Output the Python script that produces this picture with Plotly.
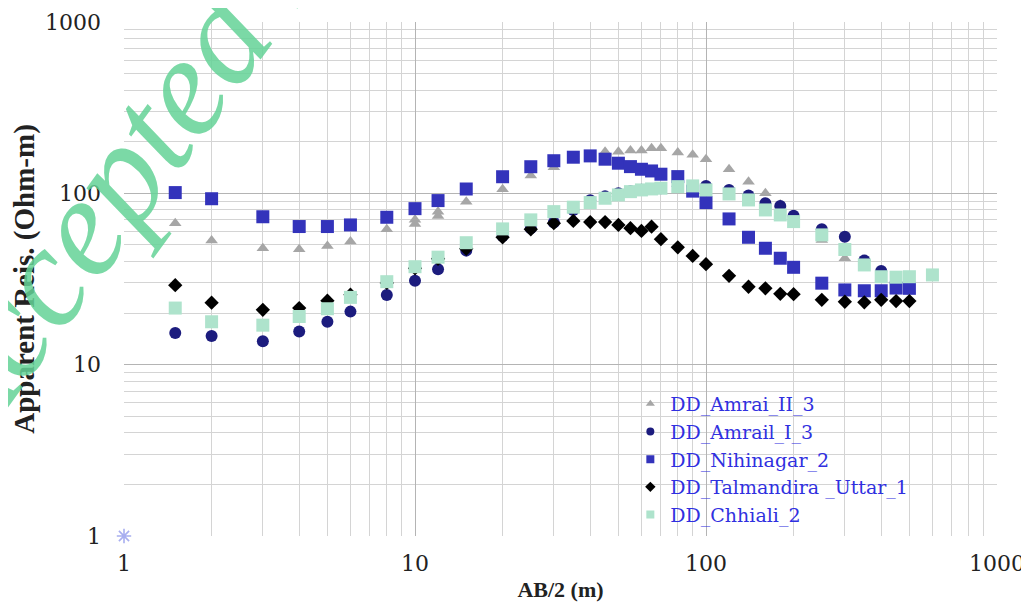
import plotly.graph_objects as go

# ---------------- data ----------------
amrai2_x = [1.5, 2, 3, 4, 5, 6, 8, 10, 10, 12, 12, 15, 20, 25, 30, 35, 40, 45, 50, 55, 60, 65, 70, 80, 90, 100,
            120, 140, 160, 180, 200, 250, 300]
amrai2_y = [67, 53, 47.8, 47.2, 49.3, 52.3, 61.7, 66.3, 70, 73.8, 78.2, 89.4, 105.7, 127, 142, 158, 162, 175, 175,
            178, 178, 183, 183, 173, 168, 158, 138, 117, 100, 86, 73, 53.5, 41.8]

amrail1_x = [1.5, 2, 3, 4, 5, 6, 8, 10, 12, 15, 20, 25, 30, 35, 40, 45, 50, 55, 60, 65, 70, 80, 90, 100,
             120, 140, 160, 180, 200, 250, 300, 350, 400, 450]
amrail1_y = [15.3, 14.7, 13.7, 15.6, 17.8, 20.4, 25.5, 30.9, 36.1, 46.3, 56.4, 62.5, 67.5, 80, 91, 96, 100, 103,
             105, 106, 107, 110, 110, 110.5, 104.7, 97, 87.5, 84.4, 74.1, 61.7, 55.8, 40.5, 35.2, 28.8]

nihi_x = [1.5, 2, 3, 4, 5, 6, 8, 10, 12, 15, 20, 25, 30, 35, 40, 45, 50, 55, 60, 65, 70, 80, 90, 100,
          120, 140, 160, 180, 200, 250, 300, 350, 400, 450, 500]
nihi_y = [101, 93, 73, 64, 64, 65.4, 72.5, 81.4, 90.7, 106, 125, 143, 155, 162.5, 165.4, 158.2, 149.9, 143.2,
          138.2, 135.1, 129.3, 125.2, 103, 88.3, 70.9, 55.4, 47.8, 41.8, 37, 29.9, 27.3, 27, 27, 28, 27.9]

talm_x = [1.5, 2, 3, 4, 5, 6, 8, 10, 12, 15, 20, 25, 30, 35, 40, 45, 50, 55, 60, 65, 70, 80, 90, 100,
          120, 140, 160, 180, 200, 250, 300, 350, 400, 450, 500]
talm_y = [29.1, 23, 20.9, 21.4, 23.6, 25.6, 30, 36.5, 41.5, 47.5, 55.4, 61.7, 67, 69, 68, 68, 65.4, 62.6, 60.3,
          63.9, 54, 48.4, 43.1, 38.6, 33, 28.5, 27.9, 25.9, 25.8, 23.9, 23.3, 23.1, 23.9, 23.5, 23.5]

chh_x = [1.5, 2, 3, 4, 5, 6, 8, 10, 12, 15, 20, 25, 30, 35, 40, 45, 50, 55, 60, 65, 70, 80, 90, 100,
         120, 140, 160, 180, 200, 250, 300, 350, 400, 450, 500, 600]
chh_y = [21.4, 17.8, 17, 19.1, 21.2, 24.7, 30.5, 37.3, 42.4, 51.5, 62, 70, 78.2, 83, 88.3, 93.6, 97.9, 102.3,
         104.7, 106.1, 107.1, 109.4, 110.5, 104.7, 99.2, 91.5, 80, 74.8, 68.4, 57.2, 47, 38.2, 32.6, 32.4, 32.6,
         33.4]

extra_x = [1]
extra_y = [1]

series_names = ["DD_Amrai_II_3", "DD_Amrail_I_3", "DD_Nihinagar_2", "DD_Talmandira _Uttar_1", "DD_Chhiali_2"]
x_ticks = [1, 10, 100, 1000]
y_ticks = [1, 10, 100, 1000]

# ---------------- styling ----------------
serif = "Liberation Serif, Times New Roman, serif"
wide_serif = "DejaVu Serif, serif"
styles = [
    dict(symbol="triangle-up", color="#a6a6a6", size=11),
    dict(symbol="circle", color="#1c1c7e", size=12),
    dict(symbol="square", color="#3333bb", size=13),
    dict(symbol="diamond", color="#000000", size=11),
    dict(symbol="square", color="#aee3cc", size=13),
]
data = [(amrai2_x, amrai2_y), (amrail1_x, amrail1_y), (nihi_x, nihi_y), (talm_x, talm_y), (chh_x, chh_y)]

fig = go.Figure()
fig.add_trace(go.Scatter(x=extra_x, y=extra_y, mode="markers", showlegend=False, cliponaxis=False,
                         marker=dict(symbol="asterisk-open", size=12, color="#a8aef0",
                                     line=dict(width=1.6, color="#a8aef0"))))
for (xs, ys), st, nm in zip(data, styles, series_names):
    fig.add_trace(go.Scatter(x=xs, y=ys, mode="markers", name=nm, showlegend=False,
                             marker=dict(symbol=st["symbol"], size=st["size"], color=st["color"], line=dict(width=0))))
for st, nm in zip(styles, series_names):
    fig.add_trace(go.Scatter(x=[None], y=[None], mode="markers", name=nm, showlegend=True,
                             marker=dict(symbol=st["symbol"], size=8, color=st["color"], line=dict(width=0))))

minor_vals = [m * d for d in (1, 10, 100) for m in range(2, 10)]

axis_common = dict(type="log", range=[0, 3], showline=False, zeroline=False, automargin=False,
                   gridcolor="#b4b4b4", gridwidth=1.4, ticks="",
                   tickfont=dict(family=wide_serif, size=22, color="#222"),
                   minor=dict(tickvals=minor_vals, showgrid=True, gridcolor="#d4d4d4", gridwidth=1.4))

fig.update_xaxes(**axis_common, tickvals=x_ticks, ticktext=[str(v) for v in x_ticks], ticklabelstandoff=12,
                 title=dict(text="<b>AB/2 (m)</b>", font=dict(family=serif, size=22, color="#222"), standoff=6))
fig.update_yaxes(**axis_common, tickvals=y_ticks, ticktext=[str(v) for v in y_ticks], ticklabelstandoff=22,
                 title=dict(text="<b>Apparent Reis. (Ohm-m)</b>", font=dict(family=serif, size=29, color="#222"),
                            standoff=2))

fig.update_layout(
    width=1021, height=596,
    margin=dict(l=116, r=32, t=14, b=68),
    paper_bgcolor="white", plot_bgcolor="white",
    legend=dict(x=0.580, y=0.294, xanchor="left", yanchor="top", bgcolor="rgba(255,255,255,0)",
                font=dict(family=wide_serif, size=19, color="#3030e0"), tracegroupgap=0, itemwidth=30),
    annotations=[dict(text="<i>Accepted Manuscript</i>", xref="paper", yref="paper", x=0.187, y=1.158,
                      xanchor="center", yanchor="middle", showarrow=False, textangle=-54,
                      font=dict(family=serif, size=142, color="rgba(100,210,150,0.85)"))],
)

fig.write_html("out.html")
